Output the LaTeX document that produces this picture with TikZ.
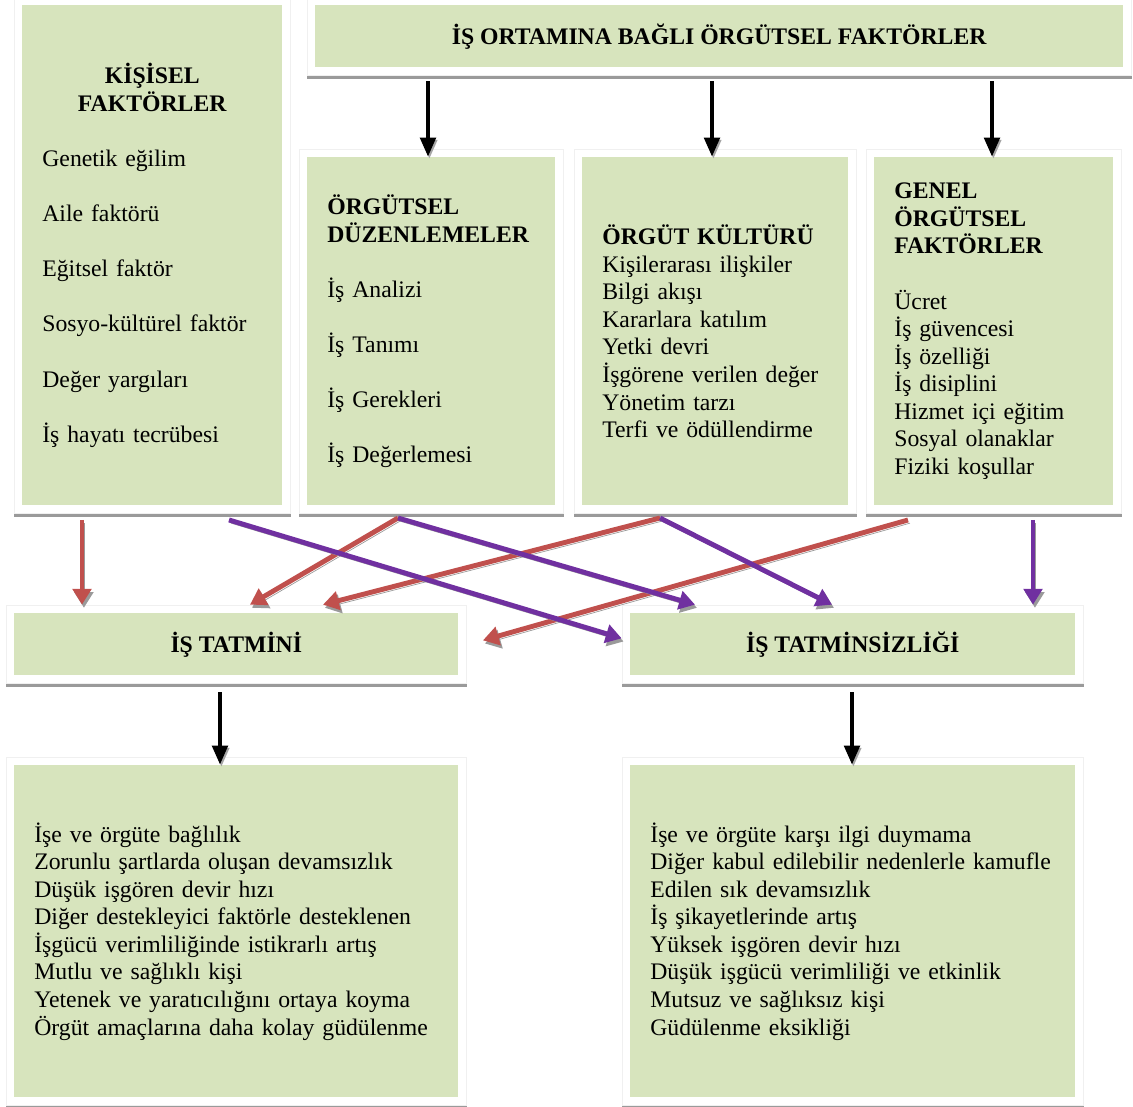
\documentclass[tikz,border=0pt]{standalone}
\usepackage{fontspec}
\setmainfont{Liberation Serif}
\usepackage{xcolor}
\usetikzlibrary{positioning,calc,fit,backgrounds,arrows.meta}
\definecolor{boxgreen}{HTML}{D7E4BD}
\definecolor{arrred}{HTML}{C0504D}
\definecolor{arrpurple}{HTML}{7030A0}
\definecolor{shadowgray}{HTML}{9A9A9A}
\newcommand{\boxfont}{\fontsize{13.5}{15.7}\selectfont}
\newcommand{\gap}{\\[\baselineskip]}

\begin{document}
\begin{tikzpicture}[
  x=0.02cm, y=-0.02cm,
  box/.style={rectangle, fill=boxgreen, inner sep=0pt, anchor=north west,
              align=left, font=\boxfont},
  boxframe/.style={rectangle, fill=white, draw=black!6, inner sep=0.16cm,
              preaction={fill=shadowgray, transform canvas={yshift=-0.06cm}}},
  blackarrow/.style={-{Triangle[width=8.5pt,length=11pt]}, line width=2.8pt,
              preaction={draw=black!35, transform canvas={shift={(0.8pt,-1.2pt)}}}},
  colarrow/.style={-{Triangle[width=10.5pt,length=9pt]}, line width=2.8pt,
              preaction={draw=shadowgray, transform canvas={shift={(1.1pt,-1.8pt)}}}}
]
\useasboundingbox (0,0) rectangle (1133,1106);

% Top box
\node[box, align=center, minimum width=16.16cm, minimum height=1.24cm] (top) at (315,5)
  {\textbf{İŞ ORTAMINA BAĞLI ÖRGÜTSEL FAKTÖRLER}};

% Kisisel faktorler
\node[box, minimum width=5.2cm, minimum height=10cm, text width=4.4cm] (kis) at (22,5) {
  \hfill\textbf{KİŞİSEL}\hfill\null\\
  \hfill\textbf{FAKTÖRLER}\hfill\null\gap
  Genetik eğilim\gap
  Aile faktörü\gap
  Eğitsel faktör\gap
  Sosyo-kültürel faktör\gap
  Değer yargıları\gap
  İş hayatı tecrübesi
};

% Second row
\node[box, minimum width=4.96cm, minimum height=6.96cm, text width=4.16cm] (duz) at (307,157) {
  \textbf{ÖRGÜTSEL}\\
  \textbf{DÜZENLEMELER}\gap
  İş Analizi\gap
  İş Tanımı\gap
  İş Gerekleri\gap
  İş Değerlemesi
};
\node[box, minimum width=5.32cm, minimum height=6.96cm, text width=4.52cm] (kul) at (582,157) {
  \textbf{ÖRGÜT KÜLTÜRÜ}\\
  Kişilerarası ilişkiler\\
  Bilgi akışı\\
  Kararlara katılım\\
  Yetki devri\\
  İşgörene verilen değer\\
  Yönetim tarzı\\
  Terfi ve ödüllendirme
};
\node[box, minimum width=4.78cm, minimum height=6.96cm, text width=3.98cm] (gen) at (874,157) {
  \textbf{GENEL}\\
  \textbf{ÖRGÜTSEL}\\
  \textbf{FAKTÖRLER}\gap
  Ücret\\
  İş güvencesi\\
  İş özelliği\\
  İş disiplini\\
  Hizmet içi eğitim\\
  Sosyal olanaklar\\
  Fiziki koşullar
};

% Satisfaction boxes
\node[box, align=center, minimum width=8.88cm, minimum height=1.24cm] (tat) at (14,613)
  {\textbf{İŞ TATMİNİ}};
\node[box, align=center, minimum width=8.9cm, minimum height=1.24cm] (tsz) at (630,613)
  {\textbf{İŞ TATMİNSİZLİĞİ}};

% Result boxes
\node[box, minimum width=8.88cm, minimum height=6.64cm, text width=8.08cm] (res1) at (14,765) {
  İşe ve örgüte bağlılık\\
  Zorunlu şartlarda oluşan devamsızlık\\
  Düşük işgören devir hızı\\
  Diğer destekleyici faktörle desteklenen\\
  İşgücü verimliliğinde istikrarlı artış\\
  Mutlu ve sağlıklı kişi\\
  Yetenek ve yaratıcılığını ortaya koyma\\
  Örgüt amaçlarına daha kolay güdülenme
};
\node[box, minimum width=8.9cm, minimum height=6.64cm, text width=8.1cm] (res2) at (630,765) {
  İşe ve örgüte karşı ilgi duymama\\
  Diğer kabul edilebilir nedenlerle kamufle\\
  Edilen sık devamsızlık\\
  İş şikayetlerinde artış\\
  Yüksek işgören devir hızı\\
  Düşük işgücü verimliliği ve etkinlik\\
  Mutsuz ve sağlıksız kişi\\
  Güdülenme eksikliği
};

% White frames
\begin{scope}[on background layer]
  \node[boxframe, fit=(top)] (topF) {};
  \node[boxframe, fit=(kis)] (kisF) {};
  \node[boxframe, fit=(duz)] (duzF) {};
  \node[boxframe, fit=(kul)] (kulF) {};
  \node[boxframe, fit=(gen)] (genF) {};
  \node[boxframe, fit=(tat)] (tatF) {};
  \node[boxframe, fit=(tsz)] (tszF) {};
  \node[boxframe, fit=(res1)] (res1F) {};
  \node[boxframe, fit=(res2)] (res2F) {};
\end{scope}

% Black arrows
\draw[blackarrow] ($(topF.south -| 428,0)+(0,5)$) -- (duz.north -| 428,0);
\draw[blackarrow] ($(topF.south -| 712,0)+(0,5)$) -- (kul.north -| 712,0);
\draw[blackarrow] ($(topF.south -| 992,0)+(0,5)$) -- (gen.north -| 992,0);
\draw[blackarrow] ($(tatF.south -| 220,0)+(0,8)$) -- (res1.north -| 220,0);
\draw[blackarrow] ($(tszF.south -| 852,0)+(0,8)$) -- (res2.north -| 852,0);

% Red arrows
\draw[colarrow, arrred] ($(kisF.south -| 82,0)+(0,6)$) -- (tatF.north -| 82,0);
\draw[colarrow, arrred] ($(duzF.south -| 398,0)+(0,4)$) -- (tatF.north -| 250,0);
\draw[colarrow, arrred] ($(kulF.south -| 660,0)+(0,4)$) -- (tatF.north -| 323,0);
\draw[colarrow, arrred] ($(genF.south -| 908,0)+(0,6)$) -- ($(tatF.east)+(16,-4)$);

% Purple arrows
\draw[colarrow, arrpurple] ($(kisF.south -| 229,0)+(0,6)$) -- ($(tszF.west)+(0,-6)$);
\draw[colarrow, arrpurple] ($(duzF.south -| 398,0)+(0,4)$) -- (tszF.north -| 695,0);
\draw[colarrow, arrpurple] ($(kulF.south -| 660,0)+(0,4)$) -- (tszF.north -| 832,0);
\draw[colarrow, arrpurple] ($(genF.south -| 1033,0)+(0,6)$) -- (tszF.north -| 1033,0);

\end{tikzpicture}
\end{document}
